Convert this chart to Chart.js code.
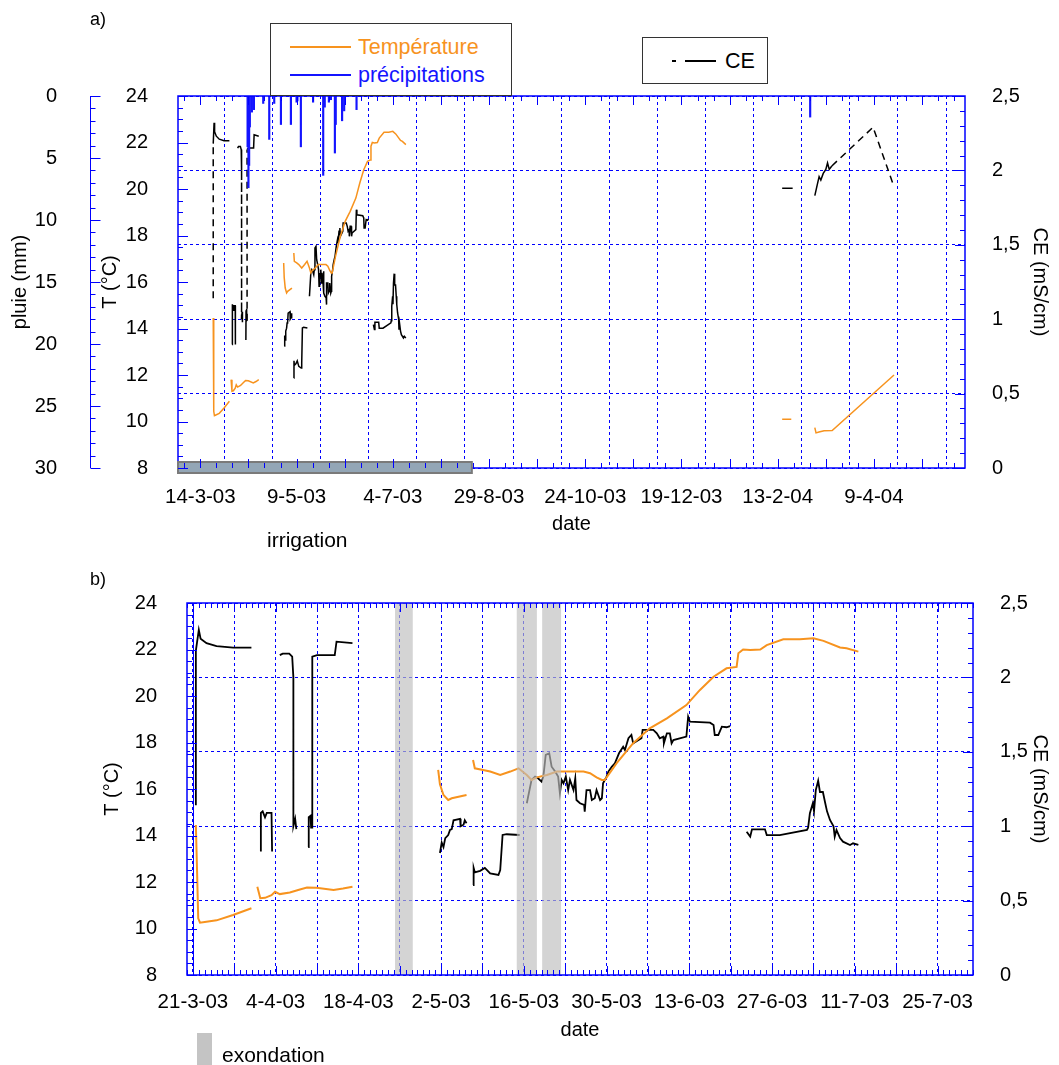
<!DOCTYPE html>
<html lang="fr">
<head>
<meta charset="UTF-8">
<title>Température, CE et précipitations</title>
<script src="https://cdn.jsdelivr.net/npm/chart.js"></script>
<style>
  body { margin: 0; background: #fff; font-family: 'Liberation Sans', Arial, sans-serif; }
  #page { position: relative; width: 1059px; height: 1065px; overflow: hidden; }
  canvas { position: absolute; left: 0; }
  .txt { position: absolute; font-size: 21px; line-height: 20px; color: #000; white-space: nowrap; }
  .box { position: absolute; border: 1px solid #333; background: #fff; }
  .ln { position: absolute; height: 2px; }
</style>
</head>
<body>
<div id="page">
  <canvas id="chartA" width="1059" height="560" style="top:0"></canvas>
  <canvas id="chartB" width="1059" height="505" style="top:560px"></canvas>

  <div class="txt" style="left:90px;top:9px;font-size:18px">a)</div>
  <!-- legend a) -->
  <div class="box" style="left:270px;top:23px;width:240px;height:71px">
    <div class="ln" style="left:19px;top:22px;width:61px;background:#f7931e"></div>
    <div class="txt" style="left:87px;top:13px;font-size:21.5px;color:#f7931e">Température</div>
    <div class="ln" style="left:19px;top:50px;width:61px;background:#1414ff"></div>
    <div class="txt" style="left:87px;top:41px;font-size:21.5px;color:#1414ff">précipitations</div>
  </div>
  <div class="box" style="left:642px;top:37px;width:124px;height:45px">
    <div class="ln" style="left:29px;top:22px;width:4px;height:1.5px;background:#000"></div>
    <div class="ln" style="left:42px;top:22px;width:31px;height:1.5px;background:#000"></div>
    <div class="txt" style="left:82px;top:13px;font-size:21.5px">CE</div>
  </div>
  <div class="txt" style="left:267px;top:530px">irrigation</div>

  <div class="txt" style="left:90px;top:569px;font-size:18px">b)</div>
  <div style="position:absolute;left:197px;top:1033px;width:15px;height:32px;background:#c4c4c4"></div>
  <div class="txt" style="left:222px;top:1045px">exondation</div>
</div>

<script>
// x values are days since 1 January 2003
const topDateLabels = ['14-3-03', '9-5-03', '4-7-03', '29-8-03', '24-10-03', '19-12-03', '13-2-04', '9-4-04'];
const bottomDateLabels = ['21-3-03', '4-4-03', '18-4-03', '2-5-03', '16-5-03', '30-5-03', '13-6-03', '27-6-03', '11-7-03', '25-7-03'];

// temperature (°C), null = gap in record
const tDays = [79.5, 79.7, 79.9, 80.2, 81.0, 83.0, 85.8, 88.9, 89.4,
  89.9, 90.4, 91.2, 92.3, 92.9, 93.7, 95.4, 97.1, 98.3, 99.9, 102.8, 104.4, 106.0, 110,
  120.5, 120.8, 121.4, 122.2, 122.8, 125.3, 126,
  126.4, 126.7, 128.1, 129.3, 131.0, 132.7, 134.1, 135.5, 136.3, 137.2, 138.9, 140.6, 142.2, 145.1, 146.2, 147.3, 148.2, 148.7,
  150.7, 153.5, 156.3, 159.2, 162.5, 164.8, 167.1, 169.3, 171.0, 171.3, 172.1, 173.3, 175.0, 176.1, 178.9, 181.7, 184.0, 185.7, 188.5, 189.6, 191.6, 300,
  410.6, 415.9, 420,
  429.6, 430.3, 432.0, 435.0, 439.7, 475.7];
const tVals = [14.45, 12.5, 10.44, 10.25, 10.28, 10.35, 10.58, 10.87, null,
  11.80, 11.30, 11.32, 11.43, 11.58, 11.48, 11.55, 11.68, 11.76, 11.75, 11.66, 11.72, 11.80, null,
  16.82, 16.2, 15.74, 15.53, 15.6, 15.74, null,
  17.25, 16.89, 16.82, 16.75, 16.60, 16.75, 16.89, 16.60, 16.39, 16.5, 16.60, 16.75, 16.75, 16.75, 16.68, 16.5, 16.39, 16.39,
  17.11, 17.97, 18.61, 19.04, 19.61, 20.26, 20.83, 21.19, 21.25, 21.84, 22.0, 21.98, 22.0, 22.19, 22.44, 22.44, 22.48, 22.37, 22.09, 22.05, 21.91, null,
  10.1, 10.1, null,
  9.74, 9.51, 9.55, 9.6, 9.61, 12.0];

// conductivité électrique CE (mS/cm), null = gap
const ceDays = [79.5, 79.5, 80.0, 80.3, 81.3, 83.0, 85.8, 88.9, 89.5,
  90.5, 90.5, 90.8, 91.2, 91.5, 92.0, 92.3, 92.4, 93,
  93.7, 94.2, 95.3, 95.8, 96.0, 96.0, 96.3, 96.5, 97,
  98.5, 98.6, 98.9, 99.0, 99.2, 99.2, 100.0, 103.0, 103.3, 106.0, 110,
  120.8, 121.1, 121.4, 121.7, 122.2, 122.5, 122.8, 123.1, 124.2, 124.3, 124.8, 125.0, 125.3, 126,
  126.4, 126.5, 126.7, 127.6, 128.4, 129.3, 130.7, 131.0, 131.4, 132.1, 134.3, 135,
  135.5, 136.3, 136.9, 137.4, 138.0, 138.3, 138.7, 139.3, 139.7, 140.3, 140.8, 141.1, 141.4, 141.7, 142.1, 142.5, 142.8, 143.4,
  143.7, 143.9, 144.5, 145.2, 145.3, 145.6, 146.2, 146.5, 147.0, 147.3, 147.9, 148.2, 148.4, 149.0, 149.3, 149.9, 150.4, 151.1,
  151.8, 152.1, 152.7, 153.2, 153.5, 154.9, 155.1, 156.9, 157.5, 158.0, 158.6, 158.7, 159.2, 159.7, 160.0, 160.3, 162.5, 162.8,
  163.1, 166.5, 167.1, 167.3, 167.9, 168.5, 169.3, 169.9, 171,
  172.7, 173.3, 173.6, 175.8, 176.1, 178.3, 182.9, 183.1, 183.4, 183.9, 184.1, 184.4, 184.8, 185.1, 185.6, 186.0, 186.3, 186.8,
  187.4, 187.6, 187.9, 188.5, 189.0, 190.2, 190.7, 191.6, 300,
  410.6, 416.7, 420,
  429.6, 431.2, 432.1, 433.1, 434.5, 436.0, 437.0, 438.0, 439.5, 463.5, 475.7];
const ceVals = [1.14, 2.18, 2.32, 2.26, 2.23, 2.21, 2.20, 2.20, null,
  0.83, 1.09, 1.10, 1.06, 1.09, 1.09, 1.09, 0.83, null,
  2.15, 2.16, 2.16, 2.14, 2.0, 1.0, 1.05, 0.98, null,
  0.86, 1.06, 1.07, 0.99, 0.99, 2.14, 2.15, 2.15, 2.24, 2.23, null,
  0.82, 0.89, 0.86, 0.92, 0.94, 0.975, 0.98, 1.04, 1.05, 1.0, 1.01, 1.04, 1.02, null,
  0.605, 0.72, 0.69, 0.70, 0.72, 0.683, 0.672, 0.705, 0.941, 0.946, 0.941, null,
  1.154, 1.311, 1.333, 1.322, 1.299, 1.333, 1.479, 1.490, 1.400, 1.367, 1.333, 1.221, 1.311, 1.288, 1.333, 1.243, 1.311, 1.243,
  1.322, 1.176, 1.154, 1.143, 1.098, 1.243, 1.243, 1.176, 1.188, 1.243, 1.176, 1.188, 1.288, 1.333, 1.367, 1.400, 1.423, 1.490,
  1.534, 1.512, 1.591, 1.613, 1.557, 1.591, 1.647, 1.647, 1.624, 1.591, 1.602, 1.557, 1.624, 1.624, 1.557, 1.579, 1.602, 1.736,
  1.702, 1.696, 1.680, 1.613, 1.613, 1.669, 1.665, 1.673, null,
  0.963, 0.93, 0.979, 0.979, 0.94, 0.94, 0.975, 0.99, 1.087, 1.154, 1.10, 1.243, 1.306, 1.23, 1.23, 1.154, 1.10, 1.042,
  1.0, 0.93, 0.975, 0.92, 0.896, 0.874, 0.885, 0.874, null,
  1.88, 1.88, null,
  1.83, 1.913, 1.958, 1.935, 1.98, 2.007, 2.05, 2.007, 2.03, 2.29, 1.89];

// pluie (mm)
const rainDays = [99.5, 100.0, 100.4, 100.8, 102.0, 103.2, 108.6, 112.1, 115.0, 118.9, 124.7, 128.0, 128.5, 130.5,
  137.6, 143.5, 144.4, 146.8, 148.0, 150.3, 150.8, 154.5, 155.7, 162.9, 426.9];
const rainVals = [4.1, 7.4, 5.6, 2.5, 1.3, 1.1, 0.6, 3.5, 0.6, 2.3, 2.3, 0.5, 0.4, 4.1,
  0.5, 6.4, 0.9, 0.5, 0.3, 4.6, 2.3, 2.0, 1.2, 1.1, 1.7];

// periods
const irrigPeriod = [59, 230];
const exondStart = [113.2, 133.8, 138.1];
const exondEnd = [116.2, 137.2, 141.3];

const BLUE = '#0000ff';
const ORANGE = '#f7931e';
const FONT = "'Liberation Sans', Arial, sans-serif";
Chart.defaults.font.family = FONT;
Chart.defaults.font.size = 20;
Chart.defaults.color = '#000';

function dayOf(s) {
  const [d, m, y] = s.split('-').map(Number);
  return (Date.UTC(2000 + y, m - 1, d) - Date.UTC(2003, 0, 1)) / 86400000;
}
const pts = (xs, ys) => xs.map((x, i) => ({ x: x, y: ys[i] }));
const comma = v => String(Math.round(v * 10) / 10).replace('.', ',');

const decor = {
  id: 'decor',
  afterDatasetsDraw(chart, args, o) {
    const { ctx, chartArea: a, scales } = chart;
    const sx = scales.x, sT = scales.T, sC = scales.CE, sR = scales.rain;
    ctx.save();
    o.bands.forEach(b => {
      const x0 = sx.getPixelForValue(b[0]), x1 = sx.getPixelForValue(b[1]);
      ctx.fillStyle = 'rgba(190,190,190,0.66)';
      ctx.fillRect(x0, a.top, x1 - x0, a.bottom - a.top);
    });
    ctx.strokeStyle = BLUE;
    ctx.lineWidth = 1.5;
    ctx.strokeRect(a.left, a.top, a.right - a.left, a.bottom - a.top);
    if (o.solidDay) {
      const px = Math.round(sx.getPixelForValue(o.solidDay)) + 0.5;
      ctx.lineWidth = 1;
      ctx.beginPath(); ctx.moveTo(px, a.top); ctx.lineTo(px, a.bottom); ctx.stroke();
    }
    if (o.irrig) {
      const x0 = sx.getPixelForValue(o.irrig[0]), x1 = sx.getPixelForValue(o.irrig[1]);
      ctx.fillStyle = '#93a6b6';
      ctx.fillRect(x0, a.bottom - 6, x1 - x0, 11);
      ctx.strokeStyle = '#7a7a7a'; ctx.lineWidth = 2;
      ctx.strokeRect(x0, a.bottom - 6, x1 - x0, 11);
      ctx.strokeStyle = BLUE;
    }
    ctx.lineWidth = 1;
    ctx.beginPath();
    // date ticks on top and bottom edges
    const i0 = -Math.floor((o.xStart - sx.min) / o.xMinor);
    const i1 = Math.floor((sx.max - o.xStart) / o.xMinor);
    for (let i = i0; i <= i1; i++) {
      const px = Math.round(sx.getPixelForValue(o.xStart + i * o.xMinor)) + 0.5;
      const len = i % o.xMajor === 0 ? 9 : 5;
      ctx.moveTo(px, a.bottom); ctx.lineTo(px, a.bottom - len);
      ctx.moveTo(px, a.top); ctx.lineTo(px, a.top + len);
    }
    // T ticks (0.5 °C)
    for (let i = 0; i <= (sT.max - sT.min) * 2; i++) {
      const py = Math.round(sT.getPixelForValue(sT.min + i / 2)) + 0.5;
      ctx.moveTo(a.left, py); ctx.lineTo(a.left + (i % 4 === 0 ? 10 : 5), py);
    }
    // CE ticks (0.1 mS/cm)
    for (let i = 0; i <= 25; i++) {
      const py = Math.round(sC.getPixelForValue(i / 10)) + 0.5;
      ctx.moveTo(a.right, py); ctx.lineTo(a.right - (i % 5 === 0 ? 10 : 5), py);
    }
    // rain axis
    if (sR) {
      const rx = Math.round(sR.right) + 0.5;
      ctx.moveTo(rx, sR.top); ctx.lineTo(rx, sR.bottom);
      for (let i = 0; i <= 30; i++) {
        const py = Math.round(sR.getPixelForValue(i)) + 0.5;
        ctx.moveTo(rx, py); ctx.lineTo(rx + (i % 5 === 0 ? 10 : 5), py);
      }
    }
    ctx.stroke();
    ctx.restore();
  }
};

function dateAxis(labels, step, min, max, height, pad, titlePad) {
  const grid = [];
  labels.forEach(l => { const d = dayOf(l); grid.push(d); if (d + step <= max) grid.push(d + step); });
  const map = {};
  labels.forEach(l => { map[dayOf(l)] = l; });
  return {
    type: 'linear', position: 'bottom', min: min, max: max, offset: false,
    afterBuildTicks: s => { s.ticks = grid.map(v => ({ value: v })); },
    afterFit: s => { s.height = height; },
    ticks: { autoSkip: false, maxRotation: 0, padding: pad, font: { size: 20.5 }, callback: v => map[v] || '' },
    grid: { color: BLUE, lineWidth: 1, drawTicks: false },
    border: { display: false, dash: [3, 3] },
    title: { display: true, text: 'date', padding: { top: 0, bottom: titlePad } }
  };
}

function tAxis(width, pad, titlePad) {
  return {
    type: 'linear', position: 'left', weight: 0, min: 8, max: 24,
    afterFit: s => { s.width = width; },
    ticks: { stepSize: 2, padding: pad },
    grid: { display: false, drawTicks: false }, border: { display: false },
    title: { display: true, text: 'T (°C)', padding: { top: titlePad, bottom: 0 } }
  };
}

function ceAxis(width) {
  return {
    type: 'linear', position: 'right', min: 0, max: 2.5,
    afterFit: s => { s.width = width; },
    ticks: { stepSize: 0.5, padding: 27, callback: comma },
    grid: { color: BLUE, lineWidth: 1, drawTicks: false },
    border: { display: false, dash: [3, 3] },
    title: { display: true, text: 'CE (mS/cm)', padding: { top: 7, bottom: 0 } }
  };
}

const common = {
  responsive: false, animation: false, devicePixelRatio: 1,
  plugins: { legend: { display: false }, tooltip: { enabled: false } },
  elements: { point: { radius: 0 }, line: { tension: 0 } }
};

// a) whole record
new Chart(document.getElementById('chartA'), {
  type: 'line',
  data: {
    datasets: [
      { type: 'bar', label: 'précipitations', data: pts(rainDays, rainVals), yAxisID: 'rain',
        backgroundColor: '#1414ff', barThickness: 1.5, order: 0 },
      { label: 'Température', data: pts(tDays, tVals), yAxisID: 'T',
        borderColor: ORANGE, borderWidth: 1.5, spanGaps: false, order: 1 },
      { label: 'CE', data: pts(ceDays, ceVals), yAxisID: 'CE',
        borderColor: '#000', borderWidth: 1.5, spanGaps: false, order: 2,
        segment: { borderDash: c => Math.hypot(c.p1.x - c.p0.x, c.p1.y - c.p0.y) > 50 ? [7, 5] : undefined } }
    ]
  },
  options: Object.assign({}, common, {
    layout: { padding: { top: 96 } },
    scales: {
      x: dateAxis(topDateLabels, 28, dayOf('1-3-03'), dayOf('1-6-04'), 92, 17, 24),
      rain: {
        type: 'linear', position: 'left', weight: 1, min: 0, max: 30, reverse: true,
        afterFit: s => { s.width = 90; },
        ticks: { stepSize: 5, padding: 33 },
        grid: { display: false, drawTicks: false }, border: { display: false },
        title: { display: true, text: 'pluie (mm)', padding: { top: 8, bottom: 0 } }
      },
      T: tAxis(88, 30, 8),
      CE: ceAxis(94)
    },
    plugins: Object.assign({}, common.plugins, {
      decor: { bands: [], irrig: irrigPeriod, xStart: dayOf('14-3-03'), xMinor: 28 / 3, xMajor: 3 }
    })
  }),
  plugins: [decor]
});

// b) zoom on spring 2003
new Chart(document.getElementById('chartB'), {
  type: 'line',
  data: {
    datasets: [
      { label: 'Température', data: pts(tDays, tVals), yAxisID: 'T',
        borderColor: ORANGE, borderWidth: 2, spanGaps: false, order: 1 },
      { label: 'CE', data: pts(ceDays, ceVals), yAxisID: 'CE',
        borderColor: '#000', borderWidth: 1.8, spanGaps: false, order: 2 }
    ]
  },
  options: Object.assign({}, common, {
    layout: { padding: { top: 43 } },
    scales: {
      x: dateAxis(bottomDateLabels, 7, dayOf('20-3-03'), dayOf('31-7-03'), 90, 15, 23),
      T: tAxis(187, 30, 100),
      CE: ceAxis(86)
    },
    plugins: Object.assign({}, common.plugins, {
      decor: { bands: exondStart.map((s, i) => [s, exondEnd[i]]), solidDay: dayOf('21-3-03'),
               xStart: dayOf('21-3-03'), xMinor: 1, xMajor: 7 }
    })
  }),
  plugins: [decor]
});
</script>
</body>
</html>
